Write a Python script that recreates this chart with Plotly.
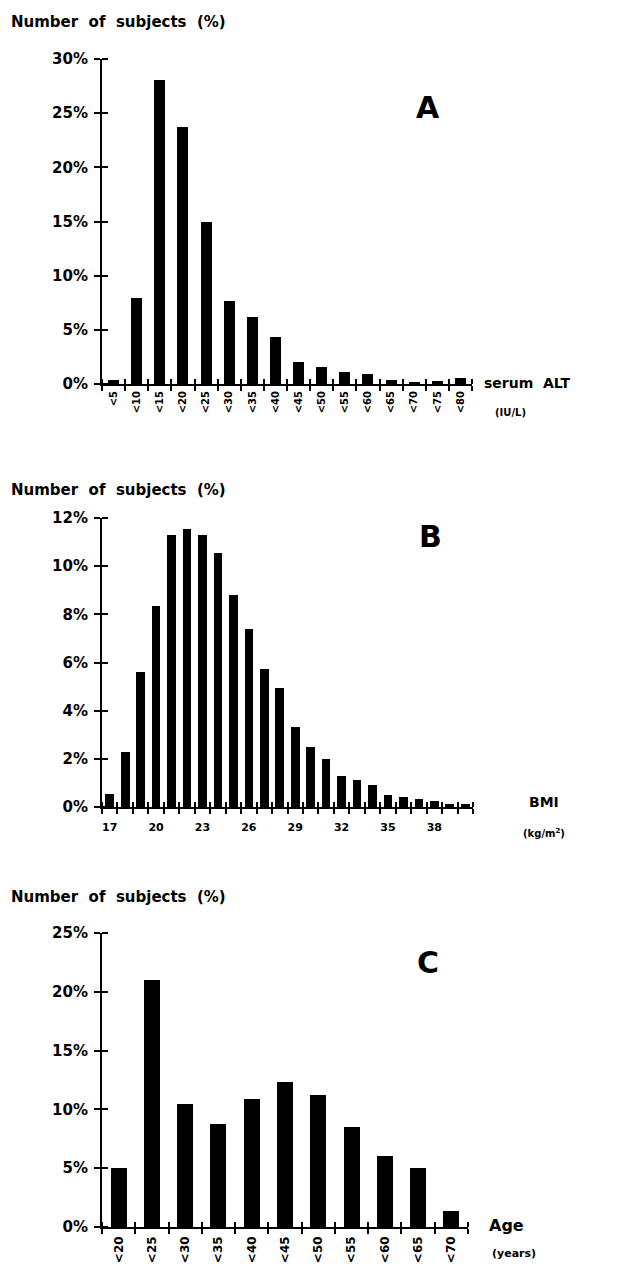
import plotly.graph_objects as go

# ---------------- data ----------------
alt_labels = ["<5", "<10", "<15", "<20", "<25", "<30", "<35", "<40", "<45", "<50",
              "<55", "<60", "<65", "<70", "<75", "<80"]
alt_values = [0.35, 7.9, 28.1, 23.7, 15.0, 7.7, 6.2, 4.35, 2.0, 1.6,
              1.15, 0.9, 0.35, 0.2, 0.25, 0.6]

bmi_values_x = list(range(17, 41))
bmi_values = [0.54, 2.3, 5.6, 8.35, 11.3, 11.55, 11.3, 10.55, 8.8, 7.4,
              5.75, 4.95, 3.33, 2.5, 2.0, 1.3, 1.12, 0.9, 0.5, 0.4,
              0.32, 0.25, 0.12, 0.14]
bmi_ticks = [17, 20, 23, 26, 29, 32, 35, 38]

age_labels = ["<20", "<25", "<30", "<35", "<40", "<45", "<50", "<55", "<60", "<65", "<70"]
age_values = [5.0, 21.0, 10.5, 8.77, 10.87, 12.3, 11.23, 8.54, 6.0, 5.0, 1.33]

y_ticks_a = [0, 5, 10, 15, 20, 25, 30]
y_ticks_b = [0, 2, 4, 6, 8, 10, 12]
y_ticks_c = [0, 5, 10, 15, 20, 25]

# ---------------- layout helpers ----------------
W, H = 622, 1266
FONT = "DejaVu Sans"


def px_x(p):
    return p / W


def px_y(p):
    return 1 - p / H


def esc(s):
    return s.replace("<", "&lt;")


fig = go.Figure()

alt_x = list(range(len(alt_labels)))
age_x = list(range(len(age_labels)))
fig.add_trace(go.Bar(x=alt_x, y=alt_values, width=0.48, marker=dict(color="black", line=dict(width=0)),
                     xaxis="x", yaxis="y", showlegend=False))
fig.add_trace(go.Bar(x=bmi_values_x, y=bmi_values, width=0.56, marker=dict(color="black", line=dict(width=0)),
                     xaxis="x2", yaxis="y2", showlegend=False))
fig.add_trace(go.Bar(x=age_x, y=age_values, width=0.48, marker=dict(color="black", line=dict(width=0)),
                     xaxis="x3", yaxis="y3", showlegend=False))
# invisible traces so the label overlay axes are drawn
fig.add_trace(go.Scatter(x=[alt_x[0]], y=[0], mode="markers", marker=dict(opacity=0),
                         xaxis="x4", yaxis="y", showlegend=False, hoverinfo="skip"))
fig.add_trace(go.Scatter(x=[bmi_values_x[0]], y=[0], mode="markers", marker=dict(opacity=0),
                         xaxis="x5", yaxis="y2", showlegend=False, hoverinfo="skip"))
fig.add_trace(go.Scatter(x=[age_x[0]], y=[0], mode="markers", marker=dict(opacity=0),
                         xaxis="x6", yaxis="y3", showlegend=False, hoverinfo="skip"))

tickfont = dict(family=FONT, size=15, color="black", weight="bold")


def yaxis(domain, vals, rng, anchor):
    return dict(domain=domain, range=rng, anchor=anchor, tickmode="array", tickvals=vals,
                ticktext=[f"{v}%" for v in vals], ticks="outside", ticklen=6, tickwidth=2,
                tickcolor="black", showline=True, linewidth=2, linecolor="black",
                showgrid=False, zeroline=False, tickfont=tickfont, ticklabelstandoff=3,
                automargin=False,
                minor=dict(tickmode="array", tickvals=vals, ticks="inside", ticklen=6,
                           tickwidth=2, tickcolor="black", showgrid=False),
                fixedrange=True)


def xaxis(domain, rng, anchor):
    bounds = [rng[0] + i for i in range(int(round(rng[1] - rng[0])) + 1)]
    return dict(domain=domain, range=rng, anchor=anchor, tickmode="array", tickvals=bounds,
                showticklabels=False, ticks="outside", ticklen=5, tickwidth=1.5, tickcolor="black",
                showline=True, linewidth=2, linecolor="black", showgrid=False, zeroline=False,
                automargin=False,
                minor=dict(tickmode="array", tickvals=bounds, ticks="inside", ticklen=5,
                           tickwidth=1.5, tickcolor="black", showgrid=False),
                fixedrange=True)


def label_axis(over, anchor, rng, vals, texts, size, angle, standoff):
    return dict(overlaying=over, anchor=anchor, range=rng, tickmode="array", tickvals=vals,
                ticktext=texts, ticks="", showline=False, showgrid=False, zeroline=False,
                tickangle=angle, ticklabelstandoff=standoff, automargin=False,
                tickfont=dict(family=FONT, size=size, color="black", weight="bold"),
                fixedrange=True)


xa_dom = [px_x(102), px_x(472)]
xb_dom = [px_x(102), px_x(473)]
xc_dom = [px_x(102), px_x(468)]
ya_dom = [px_y(384), px_y(59)]
yb_dom = [px_y(807), px_y(518)]
yc_dom = [px_y(1227), px_y(933)]

rng_a = [-0.5, len(alt_labels) - 0.5]
rng_b = [16.5, 40.5]
rng_c = [-0.5, len(age_labels) - 0.5]

fig.update_layout(
    template="none",
    width=W, height=H, margin=dict(l=0, r=0, t=0, b=0, autoexpand=False),
    paper_bgcolor="white", plot_bgcolor="white",
    xaxis=xaxis(xa_dom, rng_a, "y"),
    xaxis2=xaxis(xb_dom, rng_b, "y2"),
    xaxis3=xaxis(xc_dom, rng_c, "y3"),
    xaxis4=label_axis("x", "y", rng_a, alt_x, [esc(s) for s in alt_labels], 10, -90, 4),
    xaxis5=label_axis("x2", "y2", rng_b, bmi_ticks, [str(v) for v in bmi_ticks], 11, 0, 12),
    xaxis6=label_axis("x3", "y3", rng_c, age_x, [esc(s) for s in age_labels], 12, -90, 6),
    yaxis=yaxis(ya_dom, y_ticks_a, [0, 30], "x"),
    yaxis2=yaxis(yb_dom, y_ticks_b, [0, 12], "x2"),
    yaxis3=yaxis(yc_dom, y_ticks_c, [0, 25], "x3"),
    bargap=0,
)


def ann(text, x, y, size, xanchor="left"):
    fig.add_annotation(text=text, x=px_x(x), y=px_y(y), xref="paper", yref="paper",
                       xanchor=xanchor, yanchor="middle", showarrow=False,
                       font=dict(family=FONT, size=size, color="black", weight="bold"))


for ty in (22, 490, 897):
    ann("Number  of  subjects  (%)", 9, ty, 15)

ann("A", 428, 108, 30, "center")
ann("B", 430, 536, 30, "center")
ann("C", 428, 962, 30, "center")

ann("serum  ALT", 482, 383, 14)
ann("(IU/L)", 493, 412, 10)
ann("BMI", 527, 802, 14)
ann("(kg/m<sup>2</sup>)", 521, 833, 10)
ann("Age", 487, 1225, 16)
ann("(years)", 490, 1253, 11)

fig.write_html("out.html", config={"displayModeBar": False},
               post_script="document.body.style.margin='0';document.body.style.overflow='hidden';")
